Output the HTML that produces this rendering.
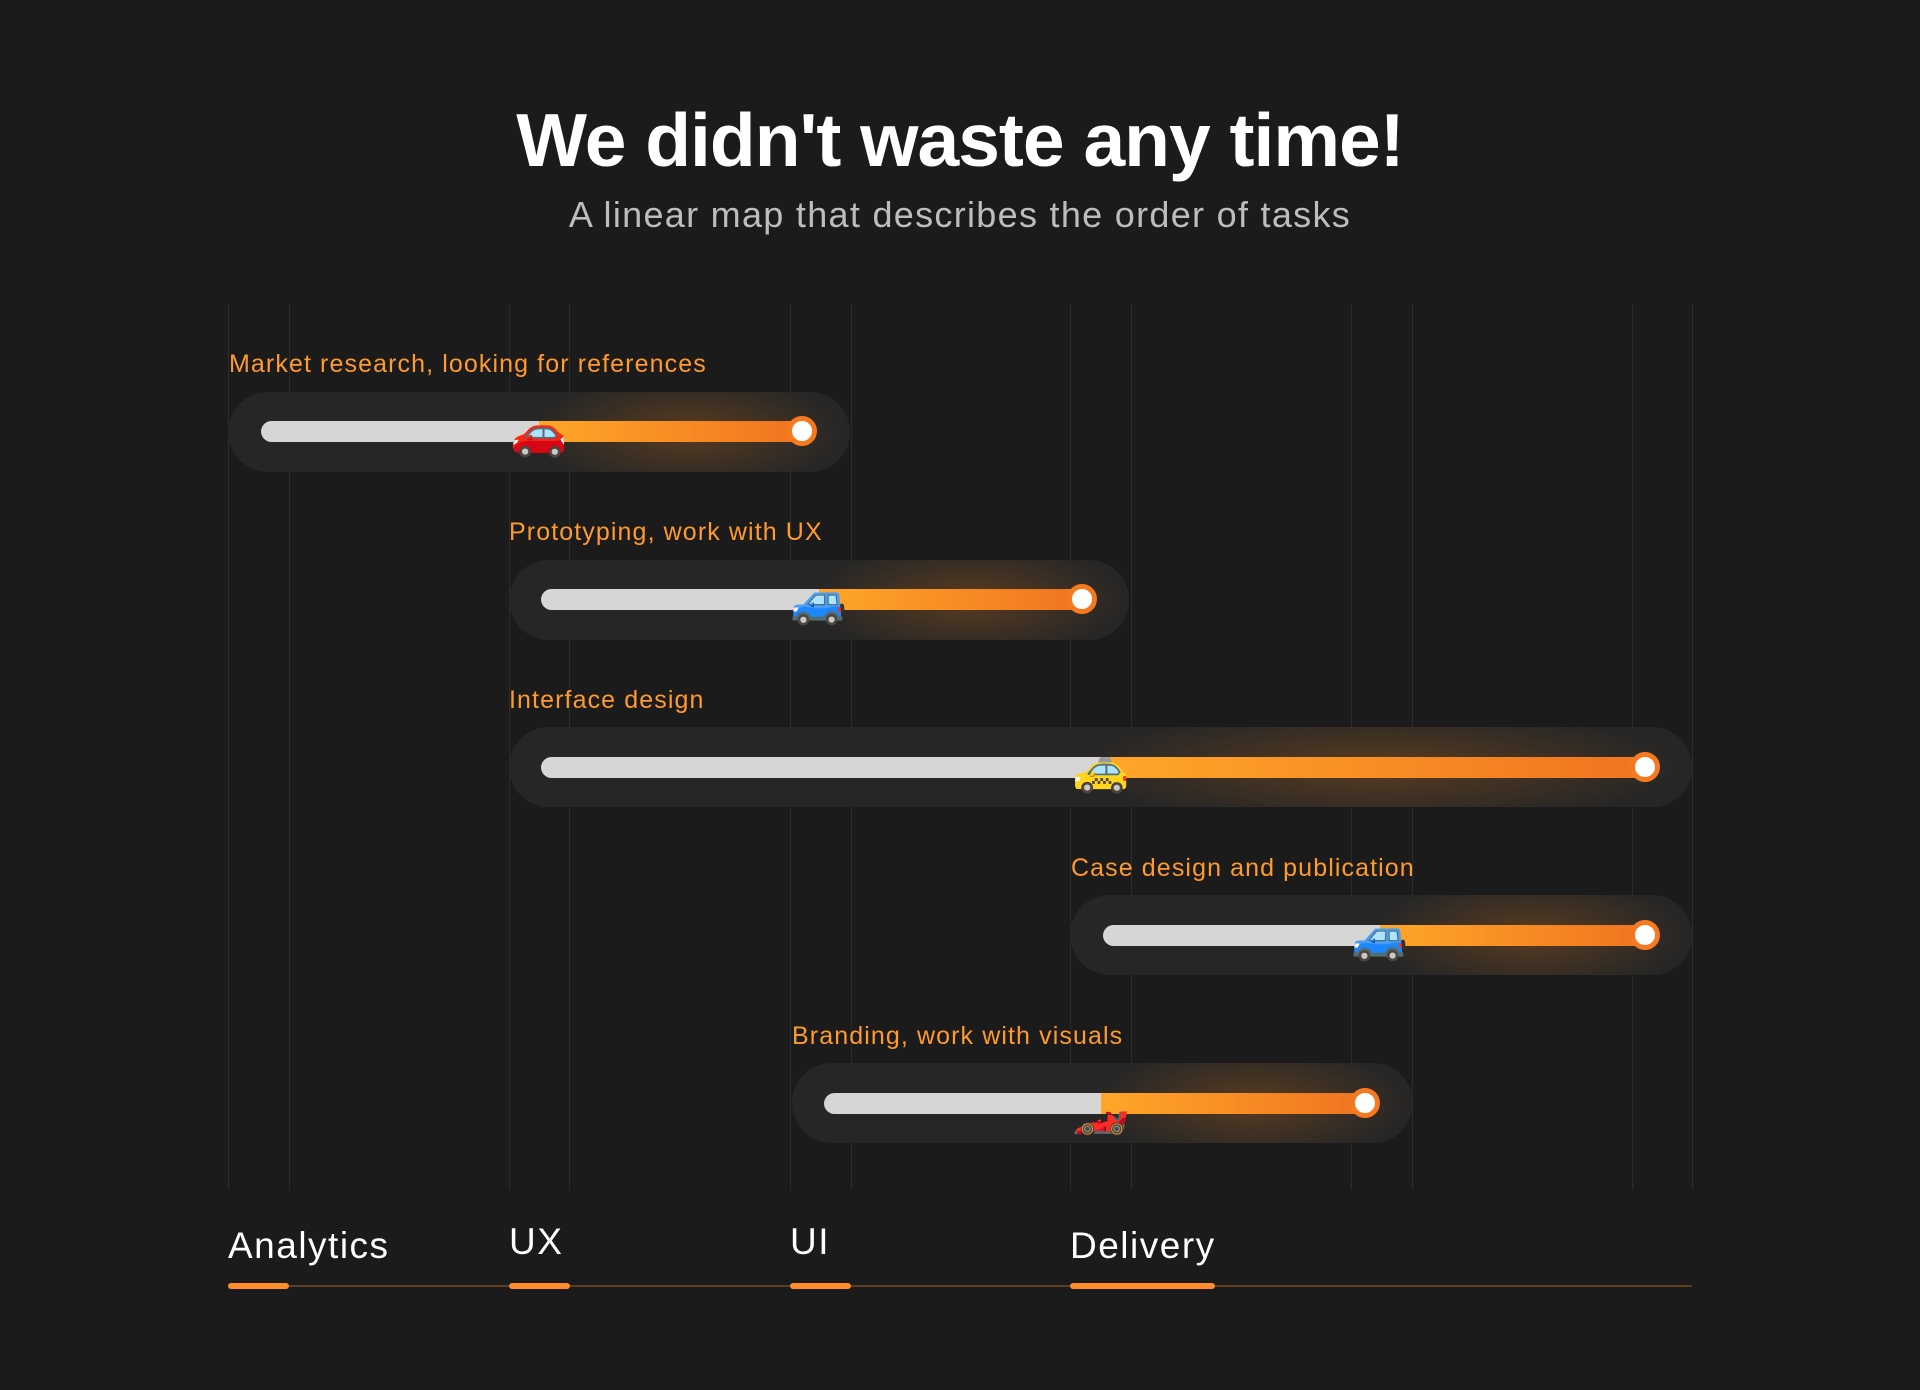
<!DOCTYPE html>
<html><head><meta charset="utf-8"><style>
*{margin:0;padding:0;box-sizing:border-box}
body{width:1920px;height:1390px;background:#1b1b1b;position:relative;overflow:hidden;font-family:"Liberation Sans",sans-serif}
.t{position:absolute;left:0;width:1920px;text-align:center;color:#fff}
.g{position:absolute;top:304px;height:886px;width:1px;background:#2c2c2c}
.pill{position:absolute;height:80px;border-radius:40px;background:#262626;overflow:hidden}
.glow{position:absolute;top:-20px;height:120px;border-radius:60px;background:radial-gradient(ellipse at center,rgba(150,85,25,.45),rgba(150,85,25,0) 70%)}
.lab{position:absolute;color:#ff9a2e;font-size:25px;line-height:1;letter-spacing:1.1px}
.tr{position:absolute;height:21px;border-radius:11px;background:#d6d6d6}
.or{position:absolute;height:21px;border-radius:0 11px 11px 0;background:linear-gradient(90deg,#ffa728,#f07420)}
.dot{position:absolute;width:30px;height:30px;border-radius:50%;background:#fff;border:5px solid #f57a1f}
.car{position:absolute;font-size:46px;line-height:1;transform:translate(-50%,-50%)}
.bl{position:absolute;color:#fff;font-size:37px;line-height:1;letter-spacing:1.5px}
.hl{position:absolute;top:1283px;height:6px;border-radius:3px;background:#ff8d2e}
</style></head><body>
<div class="t" style="top:97px;font-size:75px;font-weight:bold;letter-spacing:-1px">We didn't waste any time!</div>
<div class="t" style="top:194px;font-size:36px;color:#bdbdbd;letter-spacing:1.3px">A linear map that describes the order of tasks</div>

<div class="g" style="left:228px"></div><div class="g" style="left:289px"></div>
<div class="g" style="left:509px"></div><div class="g" style="left:569px"></div>
<div class="g" style="left:790px"></div><div class="g" style="left:851px"></div>
<div class="g" style="left:1070px"></div><div class="g" style="left:1131px"></div>
<div class="g" style="left:1351px"></div><div class="g" style="left:1412px"></div>
<div class="g" style="left:1632px"></div><div class="g" style="left:1692px"></div>

<!-- row 1 -->
<div class="lab" style="left:229px;top:352px">Market research, looking for references</div>
<div class="pill" style="left:228px;top:392px;width:622px"><div class="glow" style="left:300px;width:320px"></div></div>
<div class="tr" style="left:261px;top:421px;width:541px"></div>
<div class="or" style="left:539px;top:421px;width:263px"></div>
<div class="dot" style="left:787px;top:416px"></div>
<div class="car" style="left:539px;top:432px">🚗</div>

<!-- row 2 -->
<div class="lab" style="left:509px;top:520px">Prototyping, work with UX</div>
<div class="pill" style="left:509px;top:560px;width:620px"><div class="glow" style="left:300px;width:320px"></div></div>
<div class="tr" style="left:541px;top:589px;width:541px"></div>
<div class="or" style="left:819px;top:589px;width:263px"></div>
<div class="dot" style="left:1067px;top:584px"></div>
<div class="car" style="left:819px;top:600px">🚙</div>

<!-- row 3 -->
<div class="lab" style="left:509px;top:688px">Interface design</div>
<div class="pill" style="left:509px;top:727px;width:1183px"><div class="glow" style="left:560px;width:620px"></div></div>
<div class="tr" style="left:541px;top:757px;width:1104px"></div>
<div class="or" style="left:1101px;top:757px;width:544px"></div>
<div class="dot" style="left:1630px;top:752px"></div>
<div class="car" style="left:1101px;top:768px">🚕</div>

<!-- row 4 -->
<div class="lab" style="left:1071px;top:856px">Case design and publication</div>
<div class="pill" style="left:1070px;top:895px;width:622px"><div class="glow" style="left:300px;width:320px"></div></div>
<div class="tr" style="left:1103px;top:925px;width:542px"></div>
<div class="or" style="left:1380px;top:925px;width:265px"></div>
<div class="dot" style="left:1630px;top:920px"></div>
<div class="car" style="left:1380px;top:936px">🚙</div>

<!-- row 5 -->
<div class="lab" style="left:792px;top:1024px">Branding, work with visuals</div>
<div class="pill" style="left:792px;top:1063px;width:621px"><div class="glow" style="left:300px;width:320px"></div></div>
<div class="tr" style="left:824px;top:1093px;width:541px"></div>
<div class="or" style="left:1101px;top:1093px;width:264px"></div>
<div class="dot" style="left:1350px;top:1088px"></div>
<div class="car" style="left:1101px;top:1110px">🏎️</div>

<!-- bottom -->
<div class="bl" style="left:228px;top:1227px">Analytics</div>
<div class="bl" style="left:509px;top:1223px">UX</div>
<div class="bl" style="left:790px;top:1223px">UI</div>
<div class="bl" style="left:1070px;top:1227px">Delivery</div>
<div style="position:absolute;left:228px;top:1285px;width:1464px;height:2px;background:#5e3c1c"></div>
<div class="hl" style="left:228px;width:61px"></div>
<div class="hl" style="left:509px;width:61px"></div>
<div class="hl" style="left:790px;width:61px"></div>
<div class="hl" style="left:1070px;width:145px"></div>
</body></html>
